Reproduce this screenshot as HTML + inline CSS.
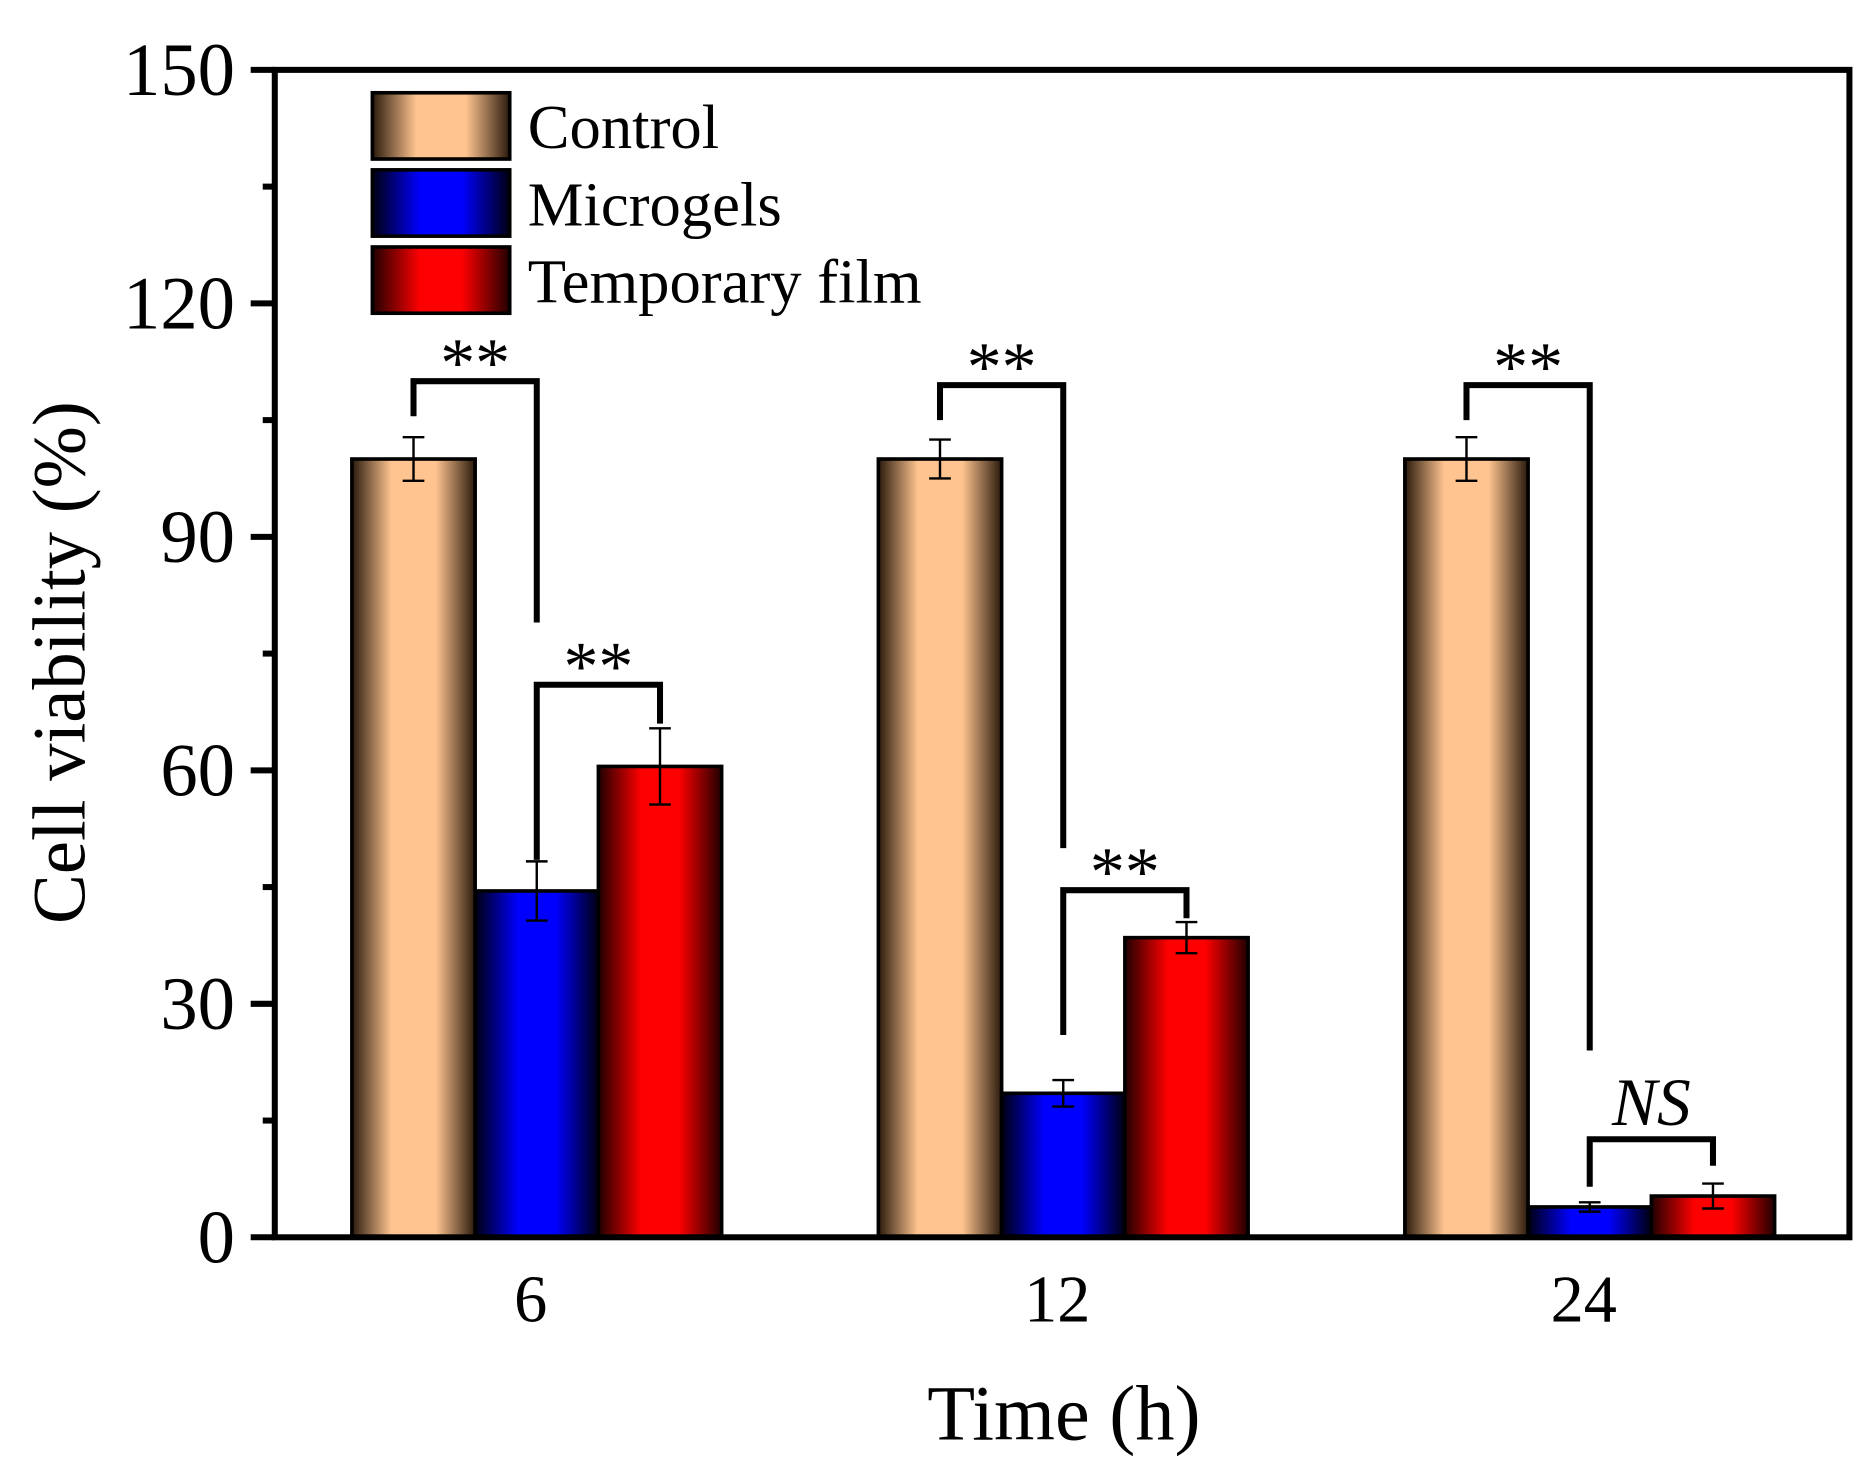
<!DOCTYPE html>
<html><head><meta charset="utf-8"><style>
html,body{margin:0;padding:0;background:#fff}
svg{display:block}
text{font-family:"Liberation Serif",serif;fill:#000}
</style></head><body>
<svg id="chart" width="1870" height="1465" viewBox="0 0 1552 1216" xmlns="http://www.w3.org/2000/svg">
<defs>
<linearGradient id="gC" x1="0" x2="1" y1="0" y2="0"><stop offset="0" stop-color="#2a1a0c"/><stop offset="0.32" stop-color="#ffc490"/><stop offset="0.68" stop-color="#ffc490"/><stop offset="1" stop-color="#2a1a0c"/></linearGradient>
<linearGradient id="gM" x1="0" x2="1" y1="0" y2="0"><stop offset="0" stop-color="#000010"/><stop offset="0.35" stop-color="#0000ff"/><stop offset="0.65" stop-color="#0000ff"/><stop offset="1" stop-color="#000010"/></linearGradient>
<linearGradient id="gF" x1="0" x2="1" y1="0" y2="0"><stop offset="0" stop-color="#200000"/><stop offset="0.35" stop-color="#ff0000"/><stop offset="0.65" stop-color="#ff0000"/><stop offset="1" stop-color="#200000"/></linearGradient>
</defs>
<g id="plot"></g>
</svg>
<script>
const categories = ["6", "12", "24"];
const seriesNames = ["Control", "Microgels", "Temporary film"];
const controlValues = [100, 100, 100];
const microgelValues = [44.5, 18.5, 3.9];
const filmValues = [60.5, 38.5, 5.3];
const controlErrors = [2.8, 2.5, 2.8];
const microgelErrors = [3.8, 1.7, 0.6];
const filmErrors = [4.9, 2.0, 1.6];
const yTicks = [0, 30, 60, 90, 120, 150];
const bracketGroups = [0, 0, 1, 1, 2, 2];
const bracketLeft = [0, 1, 0, 1, 0, 1];
const bracketRight = [1, 2, 1, 2, 1, 2];
const bracketLeftEnd = [105.5, 48.5, 105, 26, 105, 6.5];
const bracketTop = [110, 71, 109.5, 44.6, 109.5, 12.6];
const bracketRightEnd = [79, 66, 50, 41, 24, 9.2];
const bracketLabels = ["**", "**", "**", "**", "**", "NS"];

const NS = "http://www.w3.org/2000/svg";
const g = document.getElementById('plot');
const L = 228, R = 1535, T = 58, B = 1027;
const yMax = 150;
function y(v){ return B - v / yMax * (B - T); }
const barW = 102.3;
function gx(gi){ return 292 + gi * 437; }
function bx(gi, si){ return gx(gi) + si * barW; }
function bc(gi, si){ return bx(gi, si) + barW / 2; }
function mk(tag, attrs){ const e = document.createElementNS(NS, tag); for (const k in attrs) e.setAttribute(k, attrs[k]); g.appendChild(e); return e; }

const vals = [controlValues, microgelValues, filmValues];
const errs = [controlErrors, microgelErrors, filmErrors];
const fills = ["url(#gC)", "url(#gM)", "url(#gF)"];
const keys = ["control", "microgels", "film"];

for (let gi = 0; gi < categories.length; gi++) {
  for (let si = 0; si < 3; si++) {
    const v = vals[si][gi];
    const r = mk('rect', {x: bx(gi, si), y: y(v), width: barW, height: B - y(v), fill: fills[si], stroke: '#000', 'stroke-width': 3});
    
    
    const e = errs[si][gi], cx = bc(gi, si);
    const eb = mk('path', {d: `M${cx},${y(v+e)}V${y(v-e)}M${cx-9},${y(v+e)}H${cx+9}M${cx-9},${y(v-e)}H${cx+9}`, stroke: '#000', 'stroke-width': 2, fill: 'none'});
    
    
  }
}

for (let i = 0; i < bracketLabels.length; i++) {
  const gi = bracketGroups[i];
  const xl = bc(gi, bracketLeft[i]), xr = bc(gi, bracketRight[i]);
  const p = mk('path', {d: `M${xl},${y(bracketLeftEnd[i])}V${y(bracketTop[i])}H${xr}V${y(bracketRightEnd[i])}`, stroke: '#000', 'stroke-width': 5, fill: 'none'});
  
  
  const isNS = bracketLabels[i] === 'NS';
  const t = mk('text', {x: (xl + xr) / 2, y: y(bracketTop[i]) - (isNS ? 12 : -4), 'text-anchor': 'middle', 'font-size': isNS ? 56 : 58, 'font-style': isNS ? 'italic' : 'normal'});
  t.textContent = bracketLabels[i];
  
  
}

const fr = mk('rect', {x: L, y: T, width: R - L, height: B - T, fill: 'none', stroke: '#000', 'stroke-width': 5});



for (let i = 0; i < yTicks.length; i++) {
  const v = yTicks[i];
  const tk = mk('line', {x1: L - 20, x2: L, y1: y(v), y2: y(v), stroke: '#000', 'stroke-width': 5});
  
  
  const lb = mk('text', {x: 195, y: y(v) + 21, 'text-anchor': 'end', 'font-size': 62});
  lb.textContent = v;
  
  
  if (i < yTicks.length - 1) {
    const mv = (yTicks[i] + yTicks[i + 1]) / 2;
    const mt = mk('line', {x1: L - 10, x2: L, y1: y(mv), y2: y(mv), stroke: '#000', 'stroke-width': 5});
    
    
  }
}

for (let gi = 0; gi < categories.length; gi++) {
  const t = mk('text', {x: bc(gi, 1) - 5, y: 1097, 'text-anchor': 'middle', 'font-size': 55});
  t.textContent = categories[gi];
  
  
}

const xt = mk('text', {x: 883, y: 1195, 'text-anchor': 'middle', 'font-size': 65});
xt.textContent = 'Time (h)';


const yt = mk('text', {x: 0, y: 0, 'text-anchor': 'middle', 'font-size': 62, transform: 'translate(70,550) rotate(-90)'});
yt.textContent = 'Cell viability (%)';



for (let si = 0; si < 3; si++) {
  const ly = 77 + si * 64;
  const r = mk('rect', {x: 309, y: ly, width: 114, height: 55, fill: fills[si], stroke: '#000', 'stroke-width': 3});
  
  
  const t = mk('text', {x: 438, y: ly + 46, 'font-size': 52});
  t.textContent = seriesNames[si];
  
  
}
</script>
</body></html>
